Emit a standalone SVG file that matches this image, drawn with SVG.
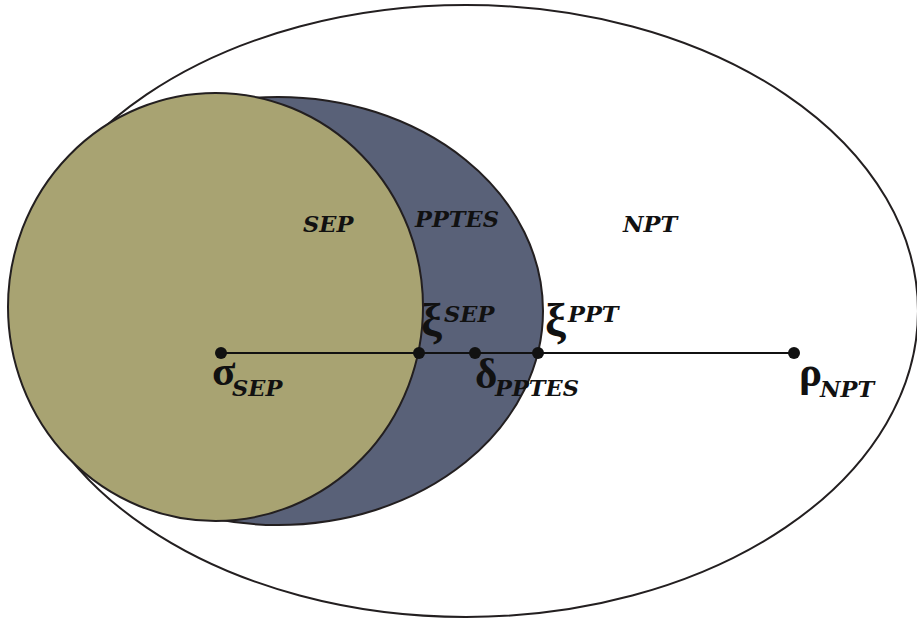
<svg xmlns="http://www.w3.org/2000/svg" width="917" height="623" viewBox="0 0 917 623">
<style>
.sh{stroke:#231f20;stroke-width:2}
.lb{font-family:"DejaVu Serif","Liberation Serif",serif;font-weight:bold;font-style:italic;fill:#111;font-size:22.5px}
.gk{font-family:"Liberation Serif","DejaVu Serif",serif;font-weight:bold;fill:#111;font-size:43px}
.xi{font-size:47px}
.dot{fill:#111}
</style>
<rect width="917" height="623" fill="#fff"/>
<g id="NPT"><ellipse class="sh" cx="466" cy="311" rx="452" ry="306" fill="#fff"/></g>
<g id="PPTES"><ellipse class="sh" cx="278" cy="311" rx="265" ry="214" fill="#596178"/></g>
<g id="SEP"><ellipse class="sh" cx="215.5" cy="307" rx="207.5" ry="214" fill="#a8a372"/></g>
<g id="connectors"><line x1="221" y1="353" x2="794" y2="353" stroke="#111" stroke-width="1.8"/></g>
<g id="points">
<circle class="dot" cx="221" cy="353" r="6"/>
<circle class="dot" cx="419" cy="353" r="6"/>
<circle class="dot" cx="475" cy="353" r="6"/>
<circle class="dot" cx="538" cy="353" r="6"/>
<circle class="dot" cx="794" cy="353" r="6"/>
</g>
<g id="labels">
<text class="lb" x="303" y="232">SEP</text>
<text class="lb" x="415" y="227">PPTES</text>
<text class="lb" x="623" y="232">NPT</text>
<text class="gk xi" x="421" y="336">ξ</text>
<text class="lb" x="444" y="322">SEP</text>
<text class="gk xi" x="545" y="336">ξ</text>
<text class="lb" x="568" y="322">PPT</text>
<text class="gk" x="212" y="385">σ</text>
<text class="lb" x="232" y="396">SEP</text>
<text class="gk" x="475" y="388">δ</text>
<text class="lb" x="495" y="396">PPTES</text>
<text class="gk" x="799" y="386">ρ</text>
<text class="lb" x="820" y="397">NPT</text>
</g>
</svg>
